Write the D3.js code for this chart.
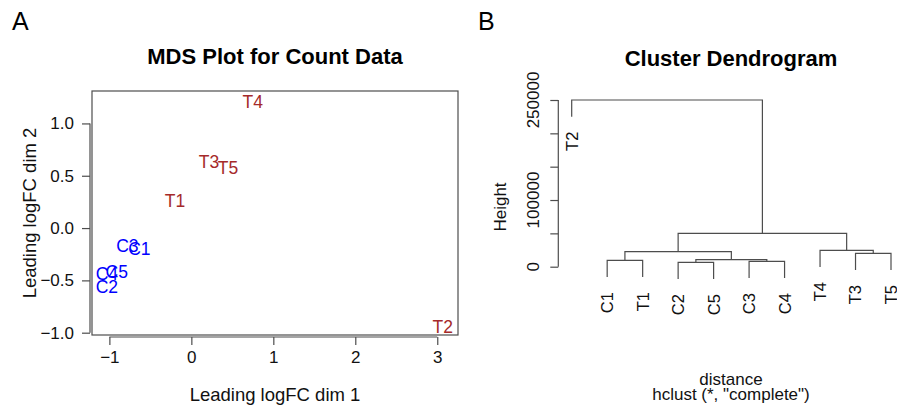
<!DOCTYPE html>
<html><head><meta charset="utf-8">
<script src="https://cdn.jsdelivr.net/npm/d3@7"></script>
<style>
html,body{margin:0;padding:0;background:#fff;}
svg{display:block;font-family:"Liberation Sans",Arial,Helvetica,sans-serif;}
</style></head>
<body>
<svg id="chart" width="897" height="407"></svg>
<script>
// ---------- Data: MDS plot ----------
const mdsLabels = ["T4","T3","T5","T1","C3","C1","C4","C5","C2","T2"];
const mdsX      = [0.75, 0.216, 0.448, -0.199, -0.78, -0.634, -1.03, -0.91, -1.03, 3.066];
const mdsY      = [1.21, 0.634, 0.58, 0.259, -0.165, -0.197, -0.435, -0.42, -0.56, -0.94];
const mdsGroup  = ["T","T","T","T","C","C","C","C","C","T"];
const mdsXTicks = [-1, 0, 1, 2, 3];
const mdsYTicks = [-1.0, -0.5, 0.0, 0.5, 1.0];

// ---------- Data: dendrogram ----------
const leafOrder = ["T2","C1","T1","C2","C5","C3","C4","T4","T3","T5"];
// merges: [left, right, height]; negative = leaf name, positive = earlier merge index (1-based)
const merges = [
  ["C2","C5", 6500],
  ["C3","C4", 8000],
  ["C1","T1", 9500],
  [1, 2, 10500],
  ["T3","T5", 20000],
  [3, 4, 22500],
  ["T4", 5, 24500],
  [6, 7, 50000],
  ["T2", 8, 250000]
];
const dendroTicks = [0, 50000, 100000, 150000, 200000, 250000];
const dendroTickLabels = [0, 100000, 250000];
const hang = 25000;

const svg = d3.select("#chart");
const fmtMinus = s => String(s).replace("-", "\u2212");
const lineCol = "#4d4d4d";

// ================= Panel A =================
svg.append("text").attr("x", 12).attr("y", 30).attr("font-size", 25).text("A");

const xA = d3.scaleLinear().domain([-1.212, 3.253]).range([92, 458]);
const yA = d3.scaleLinear().domain([-1.022, 1.31]).range([335, 91]);

svg.append("text").attr("x", 275).attr("y", 64).attr("text-anchor", "middle")
  .attr("font-size", 22).attr("font-weight", "bold").text("MDS Plot for Count Data");

svg.append("rect").attr("x", xA.range()[0]).attr("y", yA.range()[1])
  .attr("width", xA.range()[1] - xA.range()[0]).attr("height", yA.range()[0] - yA.range()[1])
  .attr("fill", "none").attr("stroke", lineCol).attr("stroke-width", 1.2);

const xAxisA = d3.axisBottom(xA).tickValues(mdsXTicks).tickSize(8).tickPadding(6)
  .tickFormat(d => fmtMinus(d3.format("d")(d)));
const gxA = svg.append("g").attr("transform", "translate(0,337)").call(xAxisA);
gxA.select(".domain").attr("d", `M${xA(-1)},0H${xA(3)}`).attr("stroke", lineCol).attr("stroke-width", 1.2);
gxA.selectAll(".tick line").attr("stroke", lineCol).attr("stroke-width", 1.2);
gxA.selectAll(".tick text").attr("font-size", 17).attr("fill", "#111").attr("font-family", null);
gxA.attr("font-family", null);

const yAxisA = d3.axisLeft(yA).tickValues(mdsYTicks).tickSize(8).tickPadding(8)
  .tickFormat(d => fmtMinus(d3.format(".1f")(d)));
const gyA = svg.append("g").attr("transform", "translate(90,0)").call(yAxisA);
gyA.select(".domain").attr("d", `M0,${yA(-1)}V${yA(1)}`).attr("stroke", lineCol).attr("stroke-width", 1.2);
gyA.selectAll(".tick line").attr("stroke", lineCol).attr("stroke-width", 1.2);
gyA.selectAll(".tick text").attr("font-size", 17).attr("fill", "#111");
gyA.attr("font-family", null);

svg.append("text").attr("x", 275).attr("y", 401).attr("text-anchor", "middle")
  .attr("font-size", 18.5).attr("fill", "#111").text("Leading logFC dim 1");
svg.append("text").attr("transform", "translate(36,213) rotate(-90)").attr("text-anchor", "middle")
  .attr("font-size", 18.5).attr("fill", "#111").text("Leading logFC dim 2");

svg.append("g").selectAll("text").data(mdsLabels).join("text")
  .attr("x", (d, i) => xA(mdsX[i])).attr("y", (d, i) => yA(mdsY[i]))
  .attr("dy", "0.36em").attr("text-anchor", "middle").attr("font-size", 17.5)
  .attr("fill", (d, i) => mdsGroup[i] === "T" ? "#a52a2a" : "#0000ff")
  .text(d => d);

// ================= Panel B =================
svg.append("text").attr("x", 478).attr("y", 30).attr("font-size", 25).text("B");
svg.append("text").attr("x", 731).attr("y", 66).attr("text-anchor", "middle")
  .attr("font-size", 22).attr("font-weight", "bold").text("Cluster Dendrogram");

const xB = d3.scaleLinear().domain([0, leafOrder.length - 1]).range([571.7, 891]);
const yB = d3.scaleLinear().domain([0, 250000]).range([266.7, 100]);

// build node positions
const nodes = []; // index by merge idx
function nodeInfo(ref) {
  if (typeof ref === "string") return { x: xB(leafOrder.indexOf(ref)), h: null, leaf: ref };
  return nodes[ref - 1];
}
const segs = [];
const leafEnds = [];
merges.forEach((m, i) => {
  const a = nodeInfo(m[0]), b = nodeInfo(m[1]), h = m[2];
  const ya = a.leaf ? h - hang : a.h, yb = b.leaf ? h - hang : b.h;
  if (a.leaf) leafEnds.push({ name: a.leaf, x: a.x, h: ya });
  if (b.leaf) leafEnds.push({ name: b.leaf, x: b.x, h: yb });
  segs.push(`M${a.x},${yB(ya)}V${yB(h)}H${b.x}V${yB(yb)}`);
  nodes[i] = { x: (a.x + b.x) / 2, h: h };
});
svg.append("g").selectAll("path").data(segs).join("path")
  .attr("d", d => d).attr("fill", "none").attr("stroke", lineCol).attr("stroke-width", 1.2);

svg.append("g").selectAll("text").data(leafEnds).join("text")
  .attr("transform", d => `translate(${d.x},${yB(d.h) + 15}) rotate(-90)`)
  .attr("text-anchor", "end").attr("dy", "0.36em").attr("font-size", 16.5).attr("fill", "#111")
  .text(d => d.name);

const yAxisB = d3.axisLeft(yB).tickValues(dendroTicks).tickSize(8).tickFormat("");
const gyB = svg.append("g").attr("transform", "translate(558.3,0)").call(yAxisB);
gyB.select(".domain").attr("d", `M0,${yB(0)}V${yB(250000)}`).attr("stroke", lineCol).attr("stroke-width", 1.2);
gyB.selectAll(".tick line").attr("stroke", lineCol).attr("stroke-width", 1.2);
svg.append("g").selectAll("text").data(dendroTickLabels).join("text")
  .attr("transform", d => `translate(533,${yB(d)}) rotate(-90)`)
  .attr("text-anchor", "middle").attr("dy", "0.36em").attr("font-size", 17).attr("fill", "#111")
  .text(d => d);

svg.append("text").attr("transform", "translate(500,207) rotate(-90)").attr("text-anchor", "middle")
  .attr("dy", "0.36em").attr("font-size", 17).attr("fill", "#111").text("Height");

svg.append("text").attr("x", 731).attr("y", 385).attr("text-anchor", "middle")
  .attr("font-size", 17).attr("fill", "#111").text("distance");
svg.append("text").attr("x", 731).attr("y", 400).attr("text-anchor", "middle")
  .attr("font-size", 17).attr("fill", "#111").text('hclust (*, "complete")');
</script>
</body></html>
